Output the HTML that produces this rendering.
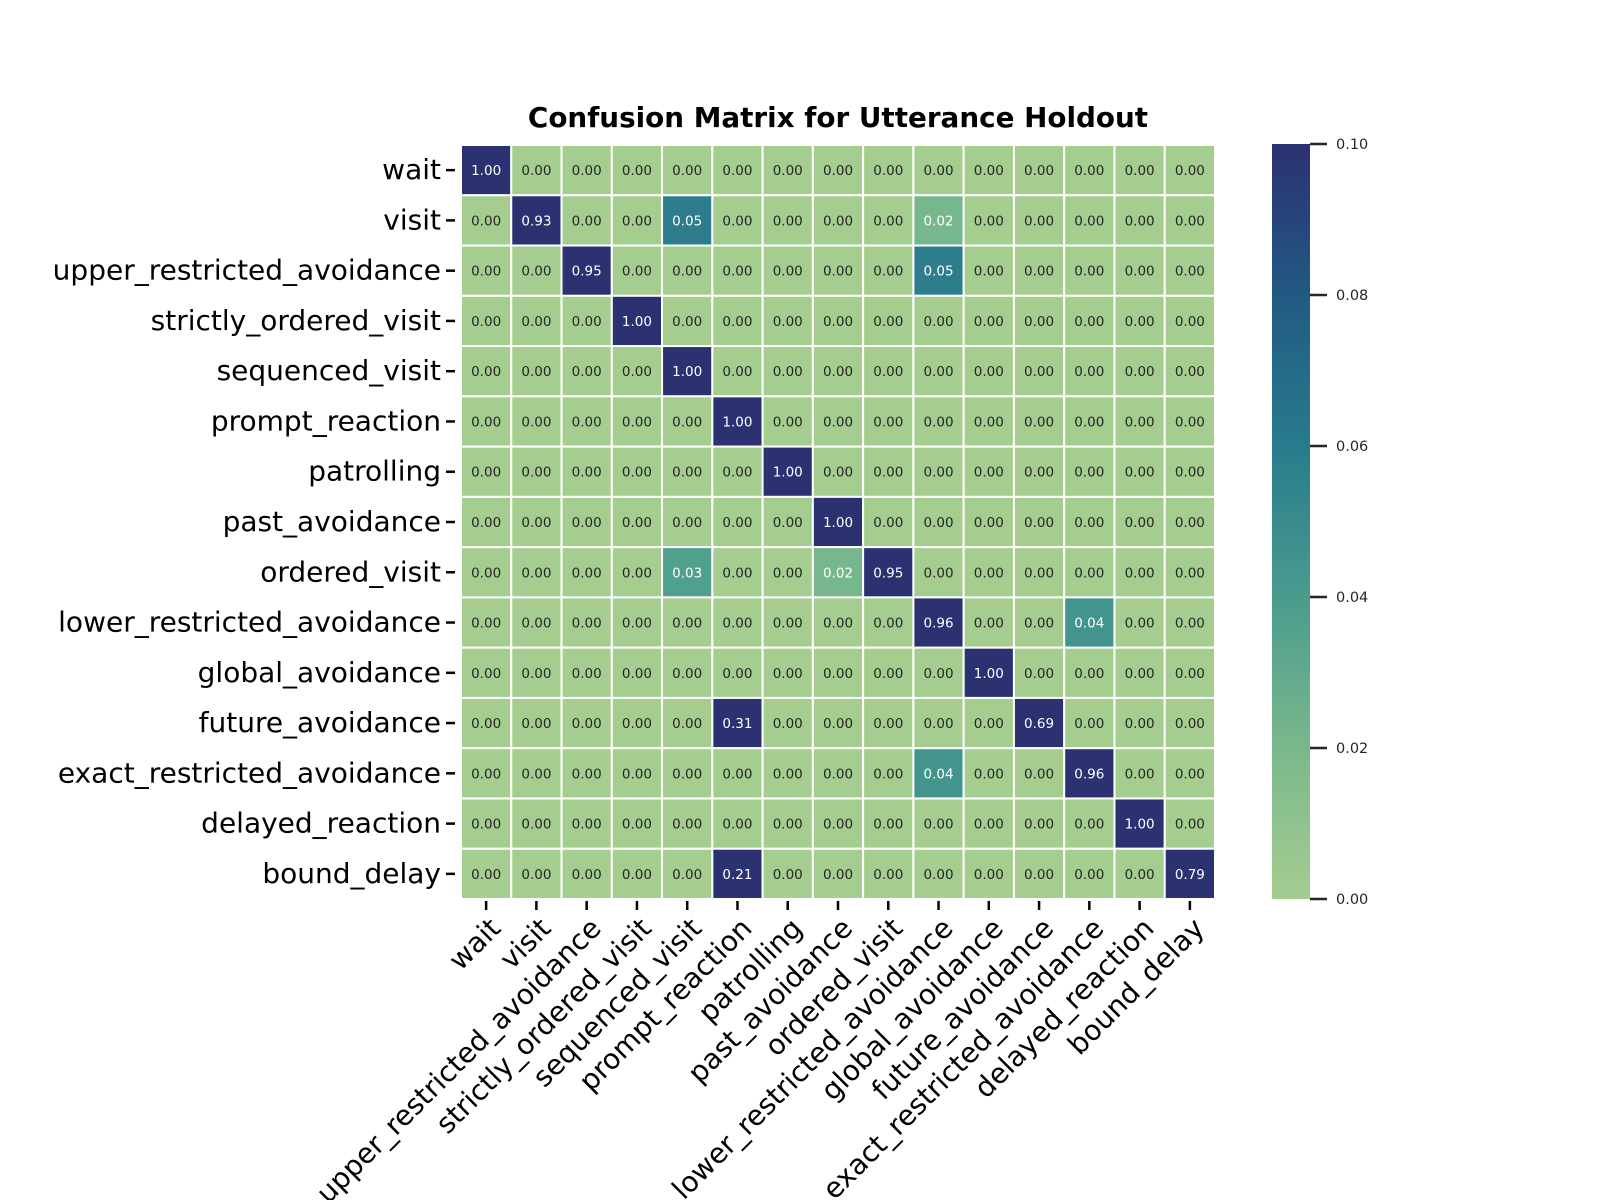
<!DOCTYPE html>
<html><head><meta charset="utf-8"><style>
body{margin:0;background:#fff}
svg{display:block;font-family:"DejaVu Sans","Liberation Sans",sans-serif}
</style></head><body>
<svg id="chart" width="1600" height="1200">
<text x="838" y="127" text-anchor="middle" font-size="27.8" font-weight="bold" fill="#000">Confusion Matrix for Utterance Holdout</text>
<g id="cells"></g><g id="ylab"></g><g id="xlab"></g>
<defs><linearGradient id="cg" x1="0" y1="1" x2="0" y2="0">
<stop offset="0" stop-color="#a5cd90"/><stop offset="0.2" stop-color="#79b88c"/><stop offset="0.4" stop-color="#4a9b8e"/><stop offset="0.6" stop-color="#287b8c"/><stop offset="0.8" stop-color="#215a83"/><stop offset="1" stop-color="#2c3172"/></linearGradient></defs>
<rect x="1272" y="144" width="38" height="755" fill="url(#cg)"/>
<g id="cbticks"></g>
</svg>
<script>
const labels=["wait","visit","upper_restricted_avoidance","strictly_ordered_visit","sequenced_visit","prompt_reaction","patrolling","past_avoidance","ordered_visit","lower_restricted_avoidance","global_avoidance","future_avoidance","exact_restricted_avoidance","delayed_reaction","bound_delay"];
// nonzero entries: [row, col, value]
const nonzero=[[0,0,1.00],[1,1,0.93],[1,4,0.05],[1,9,0.02],[2,2,0.95],[2,9,0.05],[3,3,1.00],[4,4,1.00],[5,5,1.00],[6,6,1.00],[7,7,1.00],[8,4,0.03],[8,7,0.02],[8,8,0.95],[9,9,0.96],[9,12,0.04],[10,10,1.00],[11,5,0.31],[11,11,0.69],[12,9,0.04],[12,12,0.96],[13,13,1.00],[14,5,0.21],[14,14,0.79]];
const cbTicks=[0,0.02,0.04,0.06,0.08,0.10];
const vmax=0.1;
const X0=461,Y0=145,S=754/15;
const NS="http://www.w3.org/2000/svg";
const stops=[[0,[165,205,144]],[0.2,[118,183,141]],[0.3,[80,160,142]],[0.4,[66,148,141]],[0.5,[45,125,140]],[0.6,[36,110,138]],[0.8,[33,90,131]],[1,[44,49,114]]];
function cmap(v){let t=Math.max(0,Math.min(1,v/vmax));for(let i=1;i<stops.length;i++){if(t<=stops[i][0]){const a=stops[i-1],b=stops[i],f=(t-a[0])/(b[0]-a[0]);return `rgb(${a[1].map((c,k)=>Math.round(c+(b[1][k]-c)*f)).join(",")})`;}}return "rgb(44,49,114)";}
function xs(c){return X0+c*S;} function ys(r){return Y0+r*S;}
function cbY(v){return 899-v/vmax*755;}
const M=labels.map(()=>labels.map(()=>0));
nonzero.forEach(([r,c,v])=>M[r][c]=v);
const cells=document.getElementById('cells');
M.forEach((row,r)=>row.forEach((v,c)=>{
 const g=document.createElementNS(NS,'g');
 
 
 const re=document.createElementNS(NS,'rect');
 re.setAttribute('x',xs(c));re.setAttribute('y',ys(r));re.setAttribute('width',S);re.setAttribute('height',S);
 re.setAttribute('fill',cmap(v));re.setAttribute('stroke','#fff');re.setAttribute('stroke-width','2');
 g.appendChild(re);
 const t=document.createElementNS(NS,'text');
 t.setAttribute('x',xs(c)+S/2);t.setAttribute('y',ys(r)+S/2+5);t.setAttribute('text-anchor','middle');
 t.setAttribute('font-size','13.5');t.setAttribute('fill',v>=0.015?'#fff':'#262626');
 t.textContent=v.toFixed(2);g.appendChild(t);cells.appendChild(g);
}));
const yl=document.getElementById('ylab'),xl=document.getElementById('xlab');
labels.forEach((l,i)=>{
 const cy=ys(i)+S/2,cx=xs(i)+S/2;
 const tk=document.createElementNS(NS,'line');
 tk.setAttribute('x1',446);tk.setAttribute('x2',455);tk.setAttribute('y1',cy);tk.setAttribute('y2',cy);tk.setAttribute('stroke','#000');tk.setAttribute('stroke-width','2.5');
 
 
 yl.appendChild(tk);
 const t=document.createElementNS(NS,'text');
 t.setAttribute('x',441);t.setAttribute('y',cy+9);t.setAttribute('text-anchor','end');t.setAttribute('font-size','28');t.setAttribute('fill','#000');
 t.textContent=l;
 
 
 yl.appendChild(t);
 const xt=document.createElementNS(NS,'line');
 xt.setAttribute('x1',cx);xt.setAttribute('x2',cx);xt.setAttribute('y1',901);xt.setAttribute('y2',910);xt.setAttribute('stroke','#000');xt.setAttribute('stroke-width','2.5');
 
 
 xl.appendChild(xt);
 const x=document.createElementNS(NS,'text');
 x.setAttribute('text-anchor','end');x.setAttribute('font-size','28');x.setAttribute('fill','#000');
 x.setAttribute('transform',`translate(${cx+16},${930}) rotate(-45)`);
 x.textContent=l;
 
 
 xl.appendChild(x);
});
const cb=document.getElementById('cbticks');
cbTicks.forEach(v=>{
 const y=cbY(v);
 const ln=document.createElementNS(NS,'line');
 ln.setAttribute('x1',1310);ln.setAttribute('x2',1327);ln.setAttribute('y1',y);ln.setAttribute('y2',y);ln.setAttribute('stroke','#262626');ln.setAttribute('stroke-width','2.5');
 
 
 cb.appendChild(ln);
 const t=document.createElementNS(NS,'text');
 t.setAttribute('x',1336);t.setAttribute('y',y+5);t.setAttribute('font-size','14.5');t.setAttribute('fill','#262626');
 t.textContent=v.toFixed(2);
 
 
 cb.appendChild(t);
});
</script>
</body></html>
